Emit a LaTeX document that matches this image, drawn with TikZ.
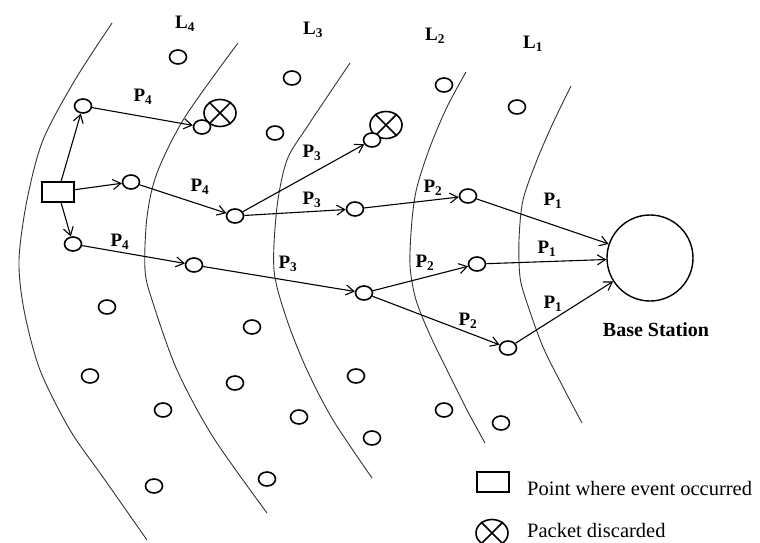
\documentclass[tikz,border=0pt]{standalone}
\usepackage{fontspec}
\setmainfont{Liberation Serif}
\usetikzlibrary{shapes.geometric,arrows.meta}

\begin{document}
\begin{tikzpicture}[x=1pt,y=-1pt,
  sensor/.style={ellipse,draw,line width=1.6pt,fill=white,minimum width=17pt,minimum height=14pt,inner sep=0pt},
  dropmark/.style={ellipse,draw,line width=1.6pt,fill=white,minimum width=32pt,minimum height=27pt,inner sep=0pt},
  eventbox/.style={rectangle,draw,line width=1.4pt,fill=white,minimum width=32pt,minimum height=20pt,inner sep=0pt},
  sink/.style={circle,draw,line width=1.4pt,minimum size=86pt,inner sep=0pt},
  hop/.style={line width=1.1pt,-{Straight Barb[length=8pt,width=10pt,line width=1.1pt]}},
  tier/.style={line width=0.9pt,draw=black!80},
  lbl/.style={font=\fontsize{19}{21}\selectfont\bfseries,inner sep=0pt},
  legtext/.style={font=\fontsize{20.5}{23}\selectfont,inner sep=0pt,anchor=west},
]
\useasboundingbox (0,0) rectangle (760,543);

% tier boundaries
\draw[tier] plot[smooth] coordinates {(112,23) (75,80) (43,140) (27,200) (19,260) (24,310) (40,370) (70,430) (105,480) (147,540)};
\draw[tier] plot[smooth] coordinates {(238,43) (185,117) (157,173) (147,217) (145,270) (153,303) (177,370) (213,437) (267,513)};
\draw[tier] plot[smooth] coordinates {(350,63) (307,127) (287,160) (277,207) (274,270) (287,320) (307,370) (333,420) (372,478)};
\draw[tier] plot[smooth] coordinates {(466,72) (447,107) (430,147) (417,187) (412,220) (410,265) (416,300) (430,335) (447,370) (467,410) (485,443)};
\draw[tier] plot[smooth] coordinates {(571,86) (553,123) (537,160) (523,200) (519,240) (520,277) (527,303) (543,347) (563,387) (582,423)};

% tier labels
\node[lbl] (l4) at (185,24) {L\textsubscript{4}};
\node[lbl] (l3) at (313,30) {L\textsubscript{3}};
\node[lbl] (l2) at (435,36) {L\textsubscript{2}};
\node[lbl] (l1) at (533,44) {L\textsubscript{1}};

% idle sensors
\foreach \x/\y [count=\i] in {178/57, 292/78, 275/133, 444/85, 517/107, 107/307, 90/376, 163/410, 154/486,
  252/327, 235/383, 299/417, 267/479, 356/376, 372/438, 444/410, 501/423}
  \node[sensor] (idle\i) at (\x,\y) {};

% discarded packets
\node[dropmark] (x1) at (220,113) {};
\draw[line width=1.6pt] (x1.45) -- (x1.225) (x1.135) -- (x1.315);
\node[dropmark] (x2) at (386,125) {};
\draw[line width=1.6pt] (x2.45) -- (x2.225) (x2.135) -- (x2.315);

% event point, relays and base station
\node[eventbox] (ev) at (58,192) {};
\node[sensor] (a1) at (83,106) {};
\node[sensor] (a2) at (131,182) {};
\node[sensor] (a3) at (73,244) {};
\node[sensor] (d1) at (202,127) {};
\node[sensor] (b1) at (235,216) {};
\node[sensor] (b2) at (194,265) {};
\node[sensor] (d2) at (372,140) {};
\node[sensor] (c1) at (355,209) {};
\node[sensor] (c2) at (364,293) {};
\node[sensor] (e1) at (468,196) {};
\node[sensor] (e2) at (477,264) {};
\node[sensor] (e3) at (508,348) {};
\node[sink] (bs) at (650,258) {};
\node[font=\fontsize{20}{22}\selectfont\bfseries,inner sep=0pt] (bslbl) at (656,330) {Base Station};

% forwarding paths
\draw[hop] (ev) -- (a1);
\draw[hop] (ev) -- (a2);
\draw[hop] (ev) -- (a3);
\draw[hop] (a1) -- (d1);
\draw[hop] (a2) -- (b1);
\draw[hop] (a3) -- (b2);
\draw[hop] (b1) -- (d2);
\draw[hop] (b1) -- (c1);
\draw[hop] (b2) -- (c2);
\draw[hop] (c1) -- (e1);
\draw[hop] (c2) -- (e2);
\draw[hop] (c2) -- (e3);
\draw[hop] (e1) -- (bs);
\draw[hop] (e2) -- (bs);
\draw[hop] (e3) -- (bs);

% hop labels
\node[lbl] (p4a) at (143,97) {P\textsubscript{4}};
\node[lbl] (p4b) at (200,187) {P\textsubscript{4}};
\node[lbl] (p4c) at (120,242) {P\textsubscript{4}};
\node[lbl] (p3a) at (312,153) {P\textsubscript{3}};
\node[lbl] (p3b) at (312,200) {P\textsubscript{3}};
\node[lbl] (p3c) at (288,264) {P\textsubscript{3}};
\node[lbl] (p2a) at (433,188) {P\textsubscript{2}};
\node[lbl] (p2b) at (425,263) {P\textsubscript{2}};
\node[lbl] (p2c) at (468,321) {P\textsubscript{2}};
\node[lbl] (p1a) at (553,201) {P\textsubscript{1}};
\node[lbl] (p1b) at (547,249) {P\textsubscript{1}};
\node[lbl] (p1c) at (553,304) {P\textsubscript{1}};

% legend
\node[eventbox] (legev) at (493,482) {};
\node[legtext] (legevt) at (527,488) {Point where event occurred};
\node[dropmark] (legx) at (492,533) {};
\draw[line width=1.6pt] (legx.45) -- (legx.225) (legx.135) -- (legx.315);
\node[legtext] (legxt) at (527,530) {Packet discarded};
\end{tikzpicture}
\end{document}
